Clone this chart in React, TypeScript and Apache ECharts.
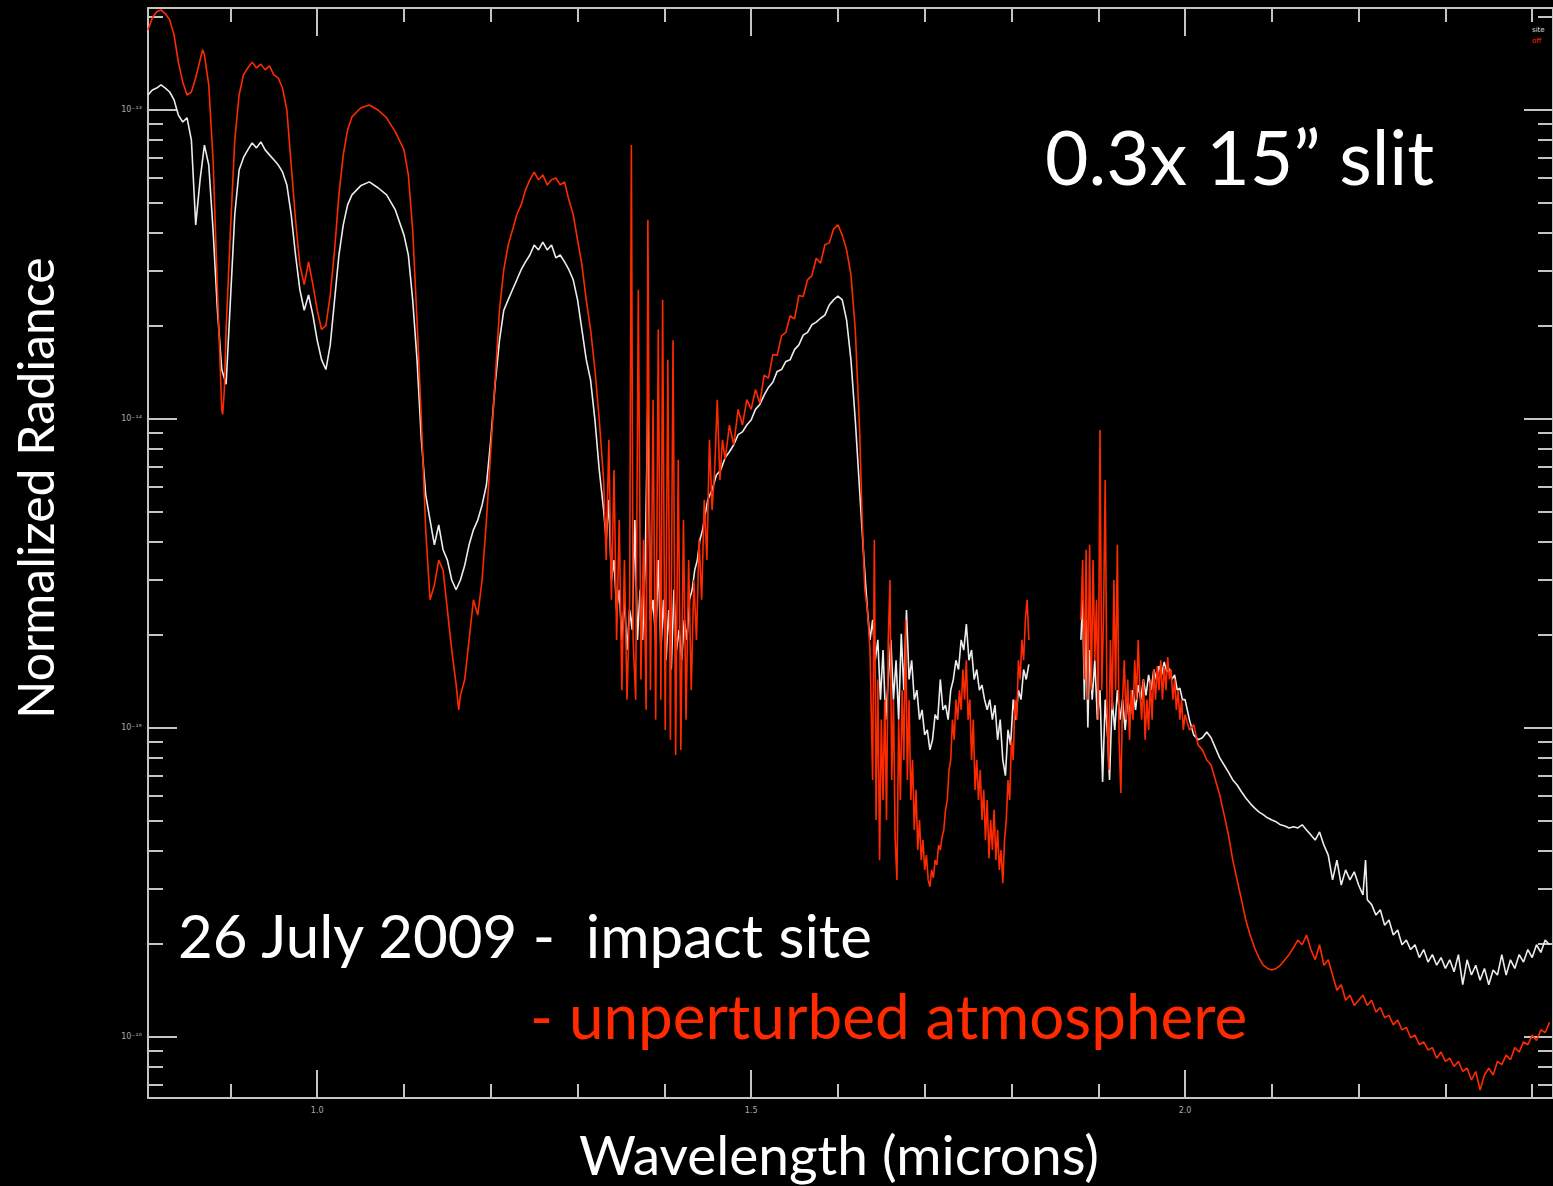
import React, { useEffect, useRef } from "react";
import * as echarts from "echarts";

// Radiance values are given in units of 10^-16 (so 1 -> 10^-16, 1000 -> 10^-13)
const X_MIN = 0.805;
const X_MAX = 2.424;
const Y_MIN = 0.632;
const Y_MAX = 2130;

const xMajorTicks = [1.0, 1.5, 2.0];
const xTickLabels = ["1.0", "1.5", "2.0"];
const xMinorTicks = [0.9, 1.1, 1.2, 1.3, 1.4, 1.6, 1.7, 1.8, 1.9, 2.1, 2.2, 2.3, 2.4];
const yMajorTicks = [1, 10, 100, 1000];
const yTickLabels = ["10\u207B\u00B9\u2076", "10\u207B\u00B9\u2075", "10\u207B\u00B9\u2074", "10\u207B\u00B9\u00B3"];
const yMinorTicks = [0.7, 0.8, 0.9, 2, 3, 4, 5, 6, 7, 8, 9, 20, 30, 40, 50, 60, 70, 80, 90, 200, 300, 400, 500, 600, 700, 800, 900, 2000];

const seriesNames = ["26 July 2009 -  impact site", "- unperturbed atmosphere"];
const legendShort = ["site", "off"];

// impact site (white), 0.805-1.82 microns
const impactSiteA: [number, number][] = [
  [0.805, 1114], [0.81, 1156], [0.815, 1173], [0.82, 1201], [0.825, 1173], [0.83, 1139], [0.835, 1074], [0.84, 959],
  [0.845, 911], [0.85, 939], [0.855, 796], [0.86, 423], [0.865, 592], [0.87, 767], [0.875, 662], [0.88, 407],
  [0.885, 224], [0.89, 144], [0.895, 129], [0.9, 242], [0.905, 457], [0.91, 637], [0.915, 698], [0.92, 740],
  [0.925, 779], [0.93, 751], [0.935, 785], [0.94, 740], [0.945, 713], [0.95, 687], [0.955, 662], [0.96, 628],
  [0.965, 570], [0.97, 457], [0.975, 338], [0.98, 261], [0.985, 224], [0.99, 251], [0.995, 216], [1.0, 179],
  [1.005, 155], [1.01, 144], [1.015, 173], [1.02, 242], [1.025, 338], [1.03, 423], [1.035, 491], [1.04, 529],
  [1.05, 566], [1.06, 583], [1.07, 558], [1.08, 529], [1.09, 473], [1.1, 392], [1.105, 338], [1.11, 242],
  [1.115, 155], [1.12, 85.3], [1.125, 56.6], [1.13, 46.9], [1.135, 39.0], [1.14, 45.2], [1.145, 37.6], [1.15, 34.8],
  [1.155, 30.0], [1.16, 27.9], [1.165, 30.0], [1.17, 33.5], [1.175, 39.0], [1.18, 43.6], [1.185, 46.9], [1.19, 52.5],
  [1.195, 61.0], [1.2, 85.3], [1.205, 129], [1.21, 179], [1.215, 224], [1.22, 242], [1.225, 261], [1.23, 281],
  [1.235, 303], [1.24, 321], [1.245, 338], [1.25, 364], [1.255, 351], [1.26, 372], [1.265, 351], [1.27, 364],
  [1.275, 331], [1.28, 338], [1.285, 321], [1.29, 303], [1.295, 281], [1.3, 242], [1.305, 194], [1.31, 155],
  [1.315, 133], [1.32, 98.9], [1.325, 68.1], [1.33, 50.6],
  [1.333, 40.5], [1.336, 54.5], [1.339, 30.0], [1.342, 34.8], [1.345, 24.0], [1.348, 27.9], [1.351, 19.2], [1.354, 25.9],
  [1.357, 17.8], [1.36, 24.0], [1.363, 20.7], [1.366, 46.9], [1.369, 19.2], [1.372, 27.9], [1.375, 19.2], [1.378, 34.8],
  [1.381, 115], [1.384, 22.3], [1.387, 25.9], [1.39, 19.2], [1.393, 34.8], [1.396, 17.8], [1.399, 25.9], [1.402, 16.5],
  [1.405, 24.0], [1.408, 15.4], [1.411, 27.9], [1.414, 17.8], [1.417, 20.7], [1.42, 16.5], [1.423, 22.3], [1.426, 19.2],
  [1.429, 25.9], [1.432, 27.9], [1.435, 32.3], [1.438, 34.8], [1.441, 40.5], [1.444, 43.6], [1.447, 48.8], [1.45, 54.5],
  [1.455, 58.7], [1.46, 65.6], [1.465, 68.1], [1.47, 74.6], [1.475, 78.0], [1.48, 82.2], [1.485, 88.6], [1.49, 90.5],
  [1.495, 95.2], [1.5, 98.9], [1.505, 107], [1.51, 111], [1.515, 119], [1.52, 126], [1.525, 131], [1.53, 142],
  [1.535, 144], [1.54, 153], [1.545, 155], [1.55, 167], [1.555, 173], [1.56, 186], [1.565, 190], [1.57, 201],
  [1.575, 205], [1.58, 211], [1.585, 216], [1.59, 233], [1.595, 242], [1.6, 249], [1.605, 242], [1.61, 208],
  [1.615, 155], [1.62, 98.9], [1.625, 58.7], [1.63, 34.8], [1.634, 24.0],
  [1.637, 19.2], [1.64, 22.3], [1.643, 16.5], [1.646, 19.2], [1.649, 12.3], [1.652, 17.8], [1.655, 10.6], [1.658, 14.3],
  [1.661, 19.2], [1.664, 12.3], [1.667, 16.5], [1.67, 10.6], [1.673, 20.1], [1.676, 13.2], [1.679, 24.0], [1.682, 14.3],
  [1.685, 16.5], [1.688, 12.3], [1.691, 13.2], [1.694, 10.6], [1.697, 11.4], [1.7, 9.46], [1.703, 9.82], [1.706, 8.46],
  [1.709, 9.12], [1.712, 11.0], [1.715, 10.6], [1.718, 14.3], [1.721, 11.4], [1.724, 11.8], [1.727, 10.6], [1.73, 13.2],
  [1.733, 14.3], [1.736, 16.5], [1.739, 15.4], [1.742, 19.2], [1.745, 17.8], [1.748, 21.6], [1.751, 16.5], [1.754, 17.8],
  [1.757, 14.3], [1.76, 15.4], [1.763, 13.2], [1.766, 13.7], [1.769, 12.3], [1.772, 11.4], [1.775, 12.3], [1.778, 10.6],
  [1.781, 11.8], [1.784, 9.12], [1.787, 10.6], [1.79, 7.85], [1.793, 6.98], [1.796, 9.82], [1.799, 8.78], [1.802, 12.3],
  [1.805, 10.6], [1.808, 13.2], [1.811, 12.3], [1.814, 15.4], [1.817, 14.3], [1.82, 16.0],
];

// impact site (white), 1.88-2.42 microns
const impactSiteB: [number, number][] = [
  [1.88, 19.2], [1.882, 25.9], [1.884, 12.3], [1.886, 22.3], [1.888, 10.0], [1.89, 17.8], [1.893, 12.3], [1.896, 16.5],
  [1.899, 10.6], [1.902, 13.2], [1.905, 6.66], [1.908, 12.3], [1.911, 9.12], [1.913, 6.76], [1.916, 12.3], [1.919, 9.82],
  [1.922, 13.2], [1.925, 10.6], [1.928, 12.3], [1.931, 9.82], [1.934, 12.3], [1.937, 11.0], [1.94, 13.2], [1.943, 11.4],
  [1.946, 13.7], [1.949, 12.3], [1.952, 14.3], [1.955, 12.7], [1.958, 14.8], [1.961, 13.2], [1.964, 15.4], [1.967, 14.3],
  [1.97, 15.8], [1.973, 14.8], [1.976, 16.3], [1.979, 15.1], [1.982, 15.5], [1.985, 14.3], [1.988, 14.8], [1.991, 13.2],
  [1.994, 13.4], [1.997, 12.3], [2.0, 12.3], [2.005, 10.6], [2.01, 9.46], [2.015, 9.12], [2.02, 9.26], [2.025, 9.67],
  [2.03, 9.26], [2.035, 8.59], [2.04, 7.97], [2.045, 7.56], [2.05, 7.17], [2.055, 6.76], [2.06, 6.51], [2.065, 6.19],
  [2.07, 5.91], [2.075, 5.68], [2.08, 5.49], [2.085, 5.33], [2.09, 5.22], [2.095, 5.10], [2.1, 5.02], [2.105, 4.95],
  [2.11, 4.84], [2.115, 4.80], [2.12, 4.73], [2.125, 4.77], [2.13, 4.73], [2.135, 4.84], [2.14, 4.66], [2.145, 4.49],
  [2.15, 4.32], [2.155, 4.59], [2.16, 4.16], [2.165, 3.86], [2.17, 3.21], [2.175, 3.72], [2.18, 3.09], [2.185, 3.46],
  [2.19, 3.21], [2.195, 3.41], [2.2, 3.09], [2.205, 2.87], [2.208, 3.72], [2.21, 2.77], [2.215, 2.67], [2.22, 2.47],
  [2.225, 2.57], [2.23, 2.29], [2.235, 2.38], [2.24, 2.13], [2.245, 2.21], [2.25, 1.98], [2.255, 2.05], [2.26, 1.91],
  [2.265, 1.98], [2.27, 1.80], [2.275, 1.91], [2.28, 1.74], [2.285, 1.84], [2.29, 1.70], [2.295, 1.80], [2.3, 1.66],
  [2.305, 1.77], [2.31, 1.62], [2.315, 1.84], [2.32, 1.47], [2.325, 1.77], [2.33, 1.58], [2.335, 1.70], [2.34, 1.52],
  [2.345, 1.66], [2.35, 1.47], [2.355, 1.64], [2.36, 1.58], [2.365, 1.84], [2.37, 1.58], [2.375, 1.77], [2.38, 1.66],
  [2.385, 1.84], [2.39, 1.74], [2.395, 1.91], [2.4, 1.80], [2.405, 1.98], [2.41, 1.87], [2.415, 2.05], [2.42, 1.98],
];

// unperturbed atmosphere (red), 0.805-1.82 microns
const unperturbedA: [number, number][] = [
  [0.805, 1808], [0.81, 1980], [0.815, 2070], [0.82, 2100], [0.825, 2040], [0.83, 1950], [0.835, 1742], [0.84, 1423],
  [0.845, 1228], [0.85, 1114], [0.855, 1139], [0.86, 1266], [0.865, 1445], [0.868, 1560], [0.87, 1503], [0.875, 1201],
  [0.88, 687], [0.885, 261], [0.89, 107], [0.891, 103], [0.893, 124], [0.895, 194], [0.9, 407], [0.905, 796],
  [0.91, 1114], [0.915, 1294], [0.92, 1363], [0.925, 1423], [0.93, 1363], [0.935, 1402], [0.94, 1343], [0.945, 1383],
  [0.95, 1294], [0.955, 1266], [0.96, 1173], [0.965, 996], [0.97, 662], [0.975, 440], [0.98, 314], [0.985, 271],
  [0.99, 321], [0.995, 271], [1.0, 224], [1.005, 194], [1.01, 200], [1.015, 251], [1.02, 351], [1.025, 529],
  [1.03, 713], [1.035, 859], [1.04, 946], [1.05, 1011], [1.06, 1034], [1.07, 996], [1.08, 939], [1.09, 846],
  [1.1, 740], [1.105, 614], [1.11, 407], [1.115, 208], [1.12, 98.9], [1.125, 43.6], [1.13, 25.9], [1.135, 28.9],
  [1.14, 34.8], [1.145, 32.3], [1.15, 24.0], [1.155, 17.8], [1.16, 13.8], [1.163, 11.4], [1.165, 12.7], [1.17, 14.3],
  [1.175, 19.2], [1.18, 25.9], [1.185, 23.1], [1.19, 30.0], [1.195, 46.9], [1.2, 79.1], [1.205, 133], [1.21, 224],
  [1.215, 303], [1.22, 364], [1.225, 407], [1.23, 457], [1.235, 491], [1.24, 549], [1.245, 592], [1.25, 627],
  [1.255, 592], [1.26, 614], [1.265, 570], [1.27, 592], [1.275, 600], [1.28, 570], [1.285, 583], [1.29, 509],
  [1.295, 457], [1.3, 378], [1.305, 314], [1.31, 242], [1.315, 194], [1.32, 144], [1.325, 98.9], [1.33, 63.2],
  [1.333, 34.8], [1.336, 85.3], [1.339, 25.9], [1.342, 68.1], [1.345, 19.2], [1.348, 46.9], [1.351, 13.2], [1.354, 34.8],
  [1.357, 12.3], [1.36, 25.9], [1.362, 767], [1.364, 19.2], [1.367, 12.3], [1.37, 261], [1.373, 14.3], [1.376, 40.5],
  [1.379, 11.4], [1.381, 440], [1.384, 13.2], [1.387, 115], [1.39, 10.6], [1.393, 194], [1.396, 12.3], [1.398, 242],
  [1.401, 9.82], [1.404, 155], [1.407, 9.12], [1.41, 179], [1.413, 8.15], [1.416, 73.5], [1.419, 8.46], [1.422, 46.9],
  [1.425, 10.6], [1.428, 34.8], [1.431, 13.2], [1.434, 30.0], [1.437, 19.2], [1.44, 40.5], [1.443, 25.9], [1.446, 54.5],
  [1.449, 34.8], [1.452, 85.3], [1.455, 50.6], [1.458, 68.1], [1.461, 115], [1.464, 63.2], [1.467, 85.3], [1.47, 73.5],
  [1.475, 95.2], [1.48, 82.2], [1.485, 107], [1.49, 95.2], [1.495, 115], [1.5, 107], [1.505, 124], [1.51, 112],
  [1.515, 138], [1.52, 135], [1.525, 161], [1.53, 160], [1.535, 185], [1.54, 190], [1.545, 215], [1.55, 210],
  [1.555, 250], [1.56, 248], [1.565, 281], [1.57, 290], [1.575, 330], [1.58, 318], [1.585, 365], [1.59, 370],
  [1.595, 410], [1.6, 423], [1.605, 392], [1.61, 351], [1.615, 292], [1.62, 194], [1.625, 91.8], [1.628, 46.9],
  [1.631, 27.9], [1.634, 24.0],
  [1.637, 17.8], [1.64, 6.76], [1.642, 40.5], [1.644, 5.02], [1.646, 14.3], [1.648, 3.72], [1.65, 10.6], [1.652, 5.82],
  [1.654, 12.3], [1.656, 5.02], [1.658, 19.2], [1.66, 30.0], [1.662, 6.76], [1.664, 12.3], [1.666, 4.32], [1.668, 3.21],
  [1.67, 10.6], [1.672, 5.82], [1.674, 13.2], [1.676, 7.85], [1.678, 22.3], [1.68, 6.76], [1.682, 12.3], [1.684, 5.82],
  [1.686, 7.85], [1.688, 4.66], [1.69, 6.28], [1.692, 4.01], [1.694, 5.02], [1.696, 3.72], [1.698, 4.32], [1.7, 3.46],
  [1.702, 3.86], [1.704, 3.21], [1.706, 3.05], [1.708, 3.46], [1.71, 3.26], [1.712, 3.72], [1.714, 3.59], [1.716, 4.16],
  [1.718, 4.01], [1.72, 4.42], [1.722, 4.66], [1.724, 5.41], [1.726, 5.82], [1.728, 7.28], [1.73, 7.85], [1.732, 10.6],
  [1.734, 9.12], [1.736, 12.3], [1.738, 10.6], [1.74, 13.2], [1.742, 11.4], [1.744, 15.4], [1.746, 12.3], [1.748, 16.5],
  [1.75, 10.6], [1.752, 12.3], [1.754, 7.85], [1.756, 10.6], [1.758, 6.28], [1.76, 7.85], [1.762, 5.82], [1.764, 7.28],
  [1.766, 5.02], [1.768, 6.28], [1.77, 4.32], [1.772, 5.82], [1.774, 3.77], [1.776, 5.02], [1.778, 4.01], [1.78, 5.41],
  [1.782, 3.72], [1.784, 4.66], [1.786, 3.46], [1.788, 4.01], [1.79, 3.13], [1.792, 4.32], [1.794, 5.02], [1.796, 6.76],
  [1.798, 5.82], [1.8, 9.12], [1.802, 7.85], [1.804, 12.3], [1.806, 10.6], [1.808, 16.5], [1.81, 14.3], [1.812, 19.2],
  [1.814, 16.5], [1.816, 22.3], [1.818, 25.9], [1.82, 19.2],
];

// unperturbed atmosphere (red), 1.88-2.42 microns
const unperturbedB: [number, number][] = [
  [1.88, 22.3], [1.882, 34.8], [1.884, 14.3], [1.886, 37.6], [1.888, 12.3], [1.89, 39.0], [1.892, 13.2], [1.894, 34.8],
  [1.896, 16.5], [1.898, 25.9], [1.9, 10.6], [1.902, 91.8], [1.904, 13.2], [1.906, 22.3], [1.908, 63.2], [1.91, 12.3],
  [1.912, 7.28], [1.914, 19.2], [1.916, 11.4], [1.918, 30.0], [1.92, 13.2], [1.922, 39.0], [1.924, 9.12], [1.926, 6.14],
  [1.928, 12.3], [1.93, 16.5], [1.932, 10.6], [1.934, 14.3], [1.936, 9.12], [1.938, 13.2], [1.94, 10.6], [1.942, 16.5],
  [1.944, 12.3], [1.946, 19.2], [1.948, 13.2], [1.95, 10.6], [1.952, 14.3], [1.954, 9.12], [1.956, 12.3], [1.958, 9.82],
  [1.96, 14.3], [1.962, 10.6], [1.964, 15.4], [1.966, 12.3], [1.968, 15.8], [1.97, 13.2], [1.972, 16.5], [1.974, 12.3],
  [1.976, 15.8], [1.978, 13.2], [1.98, 16.9], [1.982, 14.3], [1.984, 15.4], [1.986, 12.3], [1.988, 14.3], [1.99, 11.4],
  [1.992, 13.2], [1.994, 10.6], [1.996, 12.3], [1.998, 9.82], [2.0, 11.0], [2.005, 9.82], [2.01, 10.2], [2.015, 8.78],
  [2.02, 8.46], [2.025, 7.85], [2.03, 7.56], [2.035, 6.76], [2.04, 6.04], [2.045, 5.22], [2.05, 4.49], [2.055, 3.72],
  [2.06, 3.21], [2.065, 2.77], [2.07, 2.38], [2.075, 2.13], [2.08, 1.94], [2.085, 1.80], [2.09, 1.70], [2.095, 1.66],
  [2.1, 1.64], [2.105, 1.66], [2.11, 1.70], [2.115, 1.77], [2.12, 1.84], [2.125, 1.94], [2.13, 2.05], [2.135, 1.98],
  [2.14, 2.13], [2.145, 1.91], [2.15, 1.77], [2.155, 1.98], [2.16, 1.70], [2.165, 1.77], [2.17, 1.58], [2.175, 1.41],
  [2.18, 1.47], [2.185, 1.31], [2.19, 1.36], [2.195, 1.26], [2.2, 1.31], [2.205, 1.36], [2.21, 1.26], [2.215, 1.31],
  [2.22, 1.20], [2.225, 1.24], [2.23, 1.15], [2.235, 1.17], [2.24, 1.09], [2.245, 1.13], [2.25, 1.05], [2.255, 1.07],
  [2.26, 0.99], [2.265, 1.01], [2.27, 0.94], [2.275, 0.96], [2.28, 0.904], [2.285, 0.92], [2.29, 0.85], [2.295, 0.89],
  [2.3, 0.83], [2.305, 0.85], [2.31, 0.80], [2.315, 0.83], [2.32, 0.77], [2.325, 0.79], [2.33, 0.723], [2.335, 0.77],
  [2.34, 0.671], [2.345, 0.75], [2.35, 0.79], [2.355, 0.75], [2.36, 0.83], [2.365, 0.81], [2.37, 0.87], [2.375, 0.84],
  [2.38, 0.92], [2.385, 0.89], [2.39, 0.96], [2.395, 0.94], [2.4, 1.01], [2.405, 0.97], [2.41, 1.05], [2.415, 1.03],
  [2.42, 1.11],
];

const GAP_WAVELENGTH = 1.85;

const AXIS_COLOR = "#c4c4c4";
const WHITE = "#ececec";
const RED = "#ff2a00";
const FONT = "Lato";

function withGap(a: [number, number][], b: [number, number][]) {
  return [...a, [GAP_WAVELENGTH, "-"], ...b];
}

function buildOption() {
  const logMin = Math.log10(Y_MIN);
  const logMax = Math.log10(Y_MAX);
  const line = { show: true, onZero: false, lineStyle: { color: AXIS_COLOR, width: 2 } };
  const noLine = { show: false, onZero: false };
  const baseX = { type: "value", min: X_MIN, max: X_MAX, splitLine: { show: false } };
  const baseYDeco = { type: "value", min: logMin, max: logMax, splitLine: { show: false } };
  const tickStyle = { color: AXIS_COLOR, width: 2 };
  const yLabel = (v: number) => {
    const i = yMajorTicks.findIndex((t) => Math.abs(Math.log10(t) - v) < 1e-6);
    return i >= 0 ? yTickLabels[i] : "";
  };
  const xLabel = (v: number) => {
    const i = xMajorTicks.findIndex((t) => Math.abs(t - v) < 1e-6);
    return i >= 0 ? xTickLabels[i] : "";
  };
  return {
    animation: false,
    backgroundColor: "#000",
    grid: { left: 148, right: -4, top: 8, bottom: 88, containLabel: false },
    xAxis: [
      {
        ...baseX, position: "bottom", axisLine: line,
        axisTick: { show: true, inside: true, length: 28, lineStyle: tickStyle, customValues: xMajorTicks },
        axisLabel: { show: true, customValues: xMajorTicks, formatter: xLabel, color: "#aaa", fontSize: 8, margin: 8, fontFamily: "DejaVu Sans" },
      },
      {
        ...baseX, position: "bottom", axisLine: noLine,
        axisTick: { show: true, inside: true, length: 14, lineStyle: tickStyle, customValues: xMinorTicks },
        axisLabel: { show: false },
      },
      {
        ...baseX, position: "top", axisLine: line,
        axisTick: { show: true, inside: true, length: 28, lineStyle: tickStyle, customValues: xMajorTicks },
        axisLabel: { show: false },
      },
      {
        ...baseX, position: "top", axisLine: noLine,
        axisTick: { show: true, inside: true, length: 14, lineStyle: tickStyle, customValues: xMinorTicks },
        axisLabel: { show: false },
      },
    ],
    yAxis: [
      { type: "log", logBase: 10, min: Y_MIN, max: Y_MAX, show: false },
      {
        ...baseYDeco, position: "left", axisLine: line,
        axisTick: { show: true, inside: true, length: 29, lineStyle: tickStyle, customValues: yMajorTicks.map(Math.log10) },
        axisLabel: { show: true, customValues: yMajorTicks.map(Math.log10), formatter: yLabel, color: "#aaa", fontSize: 8, margin: 6, fontFamily: "DejaVu Sans" },
      },
      {
        ...baseYDeco, position: "left", axisLine: noLine,
        axisTick: { show: true, inside: true, length: 15, lineStyle: tickStyle, customValues: yMinorTicks.map(Math.log10) },
        axisLabel: { show: false },
      },
      {
        ...baseYDeco, position: "right", axisLine: line,
        axisTick: { show: true, inside: true, length: 29, lineStyle: tickStyle, customValues: yMajorTicks.map(Math.log10) },
        axisLabel: { show: false },
      },
      {
        ...baseYDeco, position: "right", axisLine: noLine,
        axisTick: { show: true, inside: true, length: 15, lineStyle: tickStyle, customValues: yMinorTicks.map(Math.log10) },
        axisLabel: { show: false },
      },
    ],
    series: [
      {
        name: seriesNames[0], type: "line", xAxisIndex: 0, yAxisIndex: 0, showSymbol: false, connectNulls: false,
        lineStyle: { color: WHITE, width: 1.6 }, itemStyle: { color: WHITE }, z: 2,
        data: withGap(impactSiteA, impactSiteB),
      },
      {
        name: seriesNames[1], type: "line", xAxisIndex: 0, yAxisIndex: 0, showSymbol: false, connectNulls: false,
        lineStyle: { color: RED, width: 1.6 }, itemStyle: { color: RED }, z: 3,
        data: withGap(unperturbedA, unperturbedB),
      },
    ],
    graphic: [
      { type: "text", x: 1045, y: 156, style: { text: "0.3x 15\u201D slit", fill: "#fff", font: `75px ${FONT}`, textAlign: "left", textVerticalAlign: "middle" } },
      { type: "text", x: 178, y: 935, style: { text: seriesNames[0], fill: "#fff", font: `60px ${FONT}`, textAlign: "left", textVerticalAlign: "middle" } },
      { type: "text", x: 530, y: 1015, style: { text: seriesNames[1], fill: RED, font: `62px ${FONT}`, textAlign: "left", textVerticalAlign: "middle" } },
      { type: "text", x: 839, y: 1154, style: { text: "Wavelength (microns)", fill: "#fff", font: `55px ${FONT}`, textAlign: "center", textVerticalAlign: "middle" } },
      { type: "text", x: 35, y: 488, rotation: Math.PI / 2, style: { text: "Normalized Radiance", fill: "#fff", font: `50px ${FONT}`, textAlign: "center", textVerticalAlign: "middle" } },
      { type: "text", x: 1532, y: 30, style: { text: legendShort[0], fill: "#ddd", font: `7px DejaVu Sans`, textAlign: "left", textVerticalAlign: "middle" } },
      { type: "text", x: 1532, y: 41, style: { text: legendShort[1], fill: RED, font: `7px DejaVu Sans`, textAlign: "left", textVerticalAlign: "middle" } },
    ],
  };
}

export default function App() {
  const ref = useRef<HTMLDivElement>(null);
  useEffect(() => {
    document.body.style.margin = "0";
    document.body.style.background = "#000";
    const chart = echarts.init(ref.current as HTMLDivElement, null, { renderer: "svg" });
    chart.setOption(buildOption() as any);
    return () => chart.dispose();
  }, []);
  return <div ref={ref} style={{ width: 1553, height: 1186, background: "#000" }} />;
}
